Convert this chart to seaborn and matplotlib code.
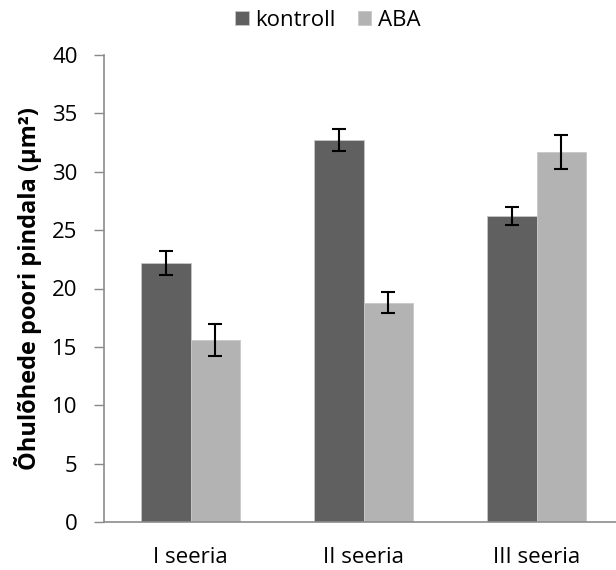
import pandas as pd
import matplotlib.pyplot as plt
import seaborn as sns

# values
series = ["I seeria", "II seeria", "III seeria"]
groups = ["kontroll", "ABA"]
kontroll_mean = [22.2, 32.7, 26.2]
kontroll_err = [1.05, 0.96, 0.76]
aba_mean = [15.6, 18.8, 31.7]
aba_err = [1.35, 0.93, 1.45]

colors = {"kontroll": "#606060", "ABA": "#b3b3b3"}

df = pd.DataFrame({
    "seeria": series * 2,
    "grupp": ["kontroll"] * 3 + ["ABA"] * 3,
    "pindala": kontroll_mean + aba_mean,
    "err": kontroll_err + aba_err,
})

sns.set_style("white")
plt.rcParams["font.family"] = ["Open Sans", "DejaVu Sans"]
plt.rcParams["text.color"] = "black"
plt.rcParams["axes.labelcolor"] = "black"
plt.rcParams["xtick.color"] = "black"
plt.rcParams["ytick.color"] = "black"

fig = plt.figure(figsize=(6.16, 5.70), dpi=100)
ax = fig.add_axes([104 / 616, 48 / 570, 519 / 616, 467 / 570])

sns.barplot(data=df, x="seeria", y="pindala", hue="grupp", hue_order=groups,
            palette=colors, width=0.572, saturation=1, errorbar=None,
            edgecolor="#c8c8c8", linewidth=0.6, ax=ax)

# error bars at the bar centres
for grp, cont in zip(groups, ax.containers):
    sub = df[df["grupp"] == grp]
    xs = [b.get_x() + b.get_width() / 2 for b in cont]
    ax.errorbar(xs, sub["pindala"], yerr=sub["err"], fmt="none",
                ecolor="black", elinewidth=1.5, capsize=5, capthick=1.5)

ax.set_ylim(0, 40)
ax.set_xlim(-0.5, 2.5)
ax.set_yticks(range(0, 41, 5))
ax.set_xlabel("")
ax.set_ylabel("Õhulõhede poori pindala (µm²)", fontsize=17, fontweight="bold", labelpad=7)
ax.tick_params(axis="y", labelsize=16, length=7, width=1, color="#888888",
               labelcolor="black", direction="out", left=True, pad=12)
ax.tick_params(axis="x", labelsize=16, length=0, labelcolor="black", pad=18)

for s in ["top", "right"]:
    ax.spines[s].set_visible(False)
for s in ["left", "bottom"]:
    ax.spines[s].set_color("#8c8c8c")
    ax.spines[s].set_linewidth(1.2)

leg = ax.legend(loc="center", bbox_to_anchor=(328 / 616, 1 - 20 / 570),
                bbox_transform=fig.transFigure, ncol=2, frameon=False,
                fontsize=16, handlelength=0.6, handleheight=0.6,
                handletextpad=0.3, columnspacing=1.0)

fig.savefig("out.png", dpi=100)
